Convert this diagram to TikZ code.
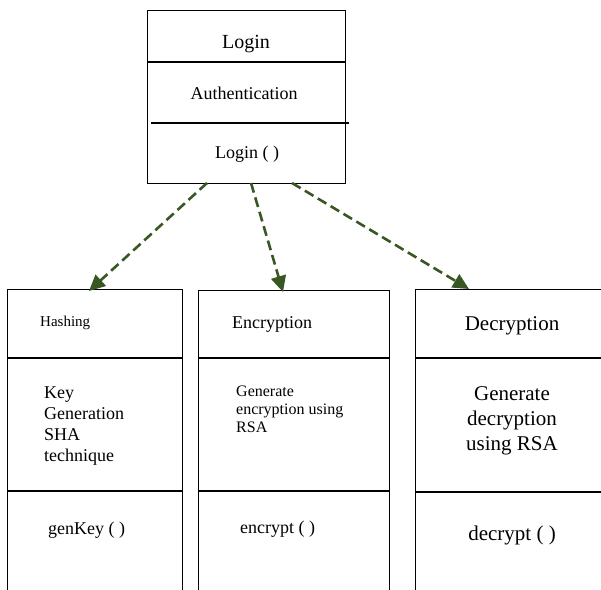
\documentclass[tikz,border=0pt]{standalone}
\usepackage{fontspec}
\setmainfont{LiberationSerif}[Extension=.ttf, UprightFont=*-Regular, BoldFont=*-Bold]
\usepackage{xcolor}
\usepackage{tikz}
\usetikzlibrary{arrows.meta}
\definecolor{depgreen}{RGB}{56,87,35}

\begin{document}
\begin{tikzpicture}[x=1pt, y=-1pt,
  classbox/.style={draw, line width=1.3pt, inner sep=0pt, anchor=north west},
  sep/.style={line width=1.3pt},
  txt/.style={inner sep=0pt},
  dep/.style={draw=depgreen, line width=2.6pt, dash pattern=on 10pt off 5pt, -{Triangle[length=16pt,width=15pt]}}]
% Frame
\useasboundingbox (0,0) rectangle (601,589);
\clip (0,0) rectangle (601,589);

% Boxes
\node[classbox, minimum width=198pt, minimum height=173pt] (login) at (147,10) {};
\node[classbox, minimum width=175pt, minimum height=330pt] (hash) at (7,289) {};
\node[classbox, minimum width=191pt, minimum height=330pt] (enc) at (198,290) {};
\node[classbox, minimum width=210pt, minimum height=330pt] (dec) at (415,289) {};

%Lines
\draw[sep] (147,62) -- (345,62);
\draw[sep] (151,123) -- (349,123);
\draw[sep] (7,358) -- (182,358);
\draw[sep] (7,491) -- (182,491);
\draw[sep] (198,358) -- (389,358);
\draw[sep] (198,491) -- (389,491);
\draw[sep] (415,358) -- (601,358);
\draw[sep] (415,492) -- (601,492);

% Texts
\node[txt, font=\fontsize{20}{24}\selectfont, anchor=base] (loginname) at (246,48) {Login};
\node[txt, font=\fontsize{18}{22}\selectfont, anchor=base] (loginattr) at (244,99) {Authentication};
\node[txt, font=\fontsize{18}{22}\selectfont, anchor=base] (loginop) at (247,158) {Login ( )};

\node[txt, font=\fontsize{15}{18}\selectfont, anchor=base west] (hashname) at (40,326) {Hashing};
\node[txt, font=\fontsize{18}{21}\selectfont, anchor=north west, align=left] (hashattr) at (44,387) {Key\\Generation\\SHA\\technique};
\node[txt, font=\fontsize{18}{22}\selectfont, anchor=base west] (hashop) at (48,534) {genKey ( )};

\node[txt, font=\fontsize{18}{22}\selectfont, anchor=base west] (encname) at (232,328) {Encryption};
\node[txt, font=\fontsize{16}{18}\selectfont, anchor=north west, align=left] (encattr) at (236,386) {Generate\\encryption using\\RSA};
\node[txt, font=\fontsize{18}{22}\selectfont, anchor=base west] (encop) at (240,533) {encrypt ( )};

\node[txt, font=\fontsize{21}{25}\selectfont, anchor=base] (decname) at (512,330) {Decryption};
\node[txt, font=\fontsize{21}{25}\selectfont, anchor=north, align=center] (decattr) at (512,386) {Generate\\decryption\\using RSA};
\node[txt, font=\fontsize{21}{25}\selectfont, anchor=base] (decop) at (512,540) {decrypt ( )};

% Arrows
\coordinate (s1) at (207,183);
\coordinate (s2) at (251,183);
\coordinate (s3) at (292,183);
\coordinate (t1) at (89,291);
\coordinate (t2) at (283,292);
\coordinate (t3) at (469,289);
\draw[dep] (s1) -- (t1);
\draw[dep] (s2) -- (t2);
\draw[dep] (s3) -- (t3);
\end{tikzpicture}
\end{document}
